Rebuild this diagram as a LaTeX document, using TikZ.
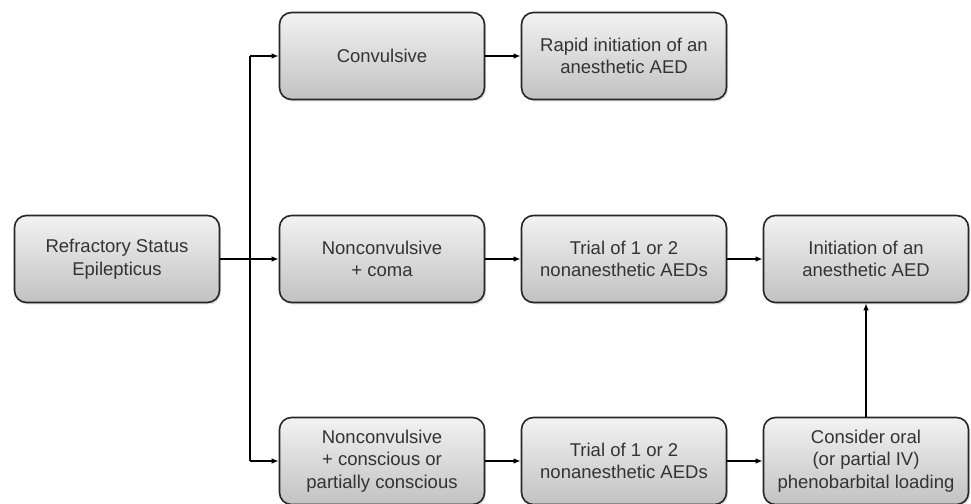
\documentclass[tikz,border=0pt]{standalone}
\usepackage{fontspec}
\setmainfont{Liberation Sans}
\usetikzlibrary{arrows.meta,shadows}
\definecolor{boxtext}{HTML}{333333}

\begin{document}
\begin{tikzpicture}[x=1pt, y=1pt,
		box/.style={draw=black!85, line width=1.6pt, rounded corners=12pt,
			top color=gray!10, bottom color=gray!48,
			drop shadow={shadow xshift=1.5pt, shadow yshift=-2pt, opacity=0.25},
			minimum width=205pt, minimum height=87pt, align=center,
			text=boxtext, font=\fontsize{18.5}{22.5}\selectfont},
		arr/.style={line width=1.3pt, -{Latex[length=7pt,width=5.5pt]}}]
			\useasboundingbox (0,0) rectangle (971,503);
			\node[box] (rse) at (117, 244) {Refractory Status\\Epilepticus};
			\node[box] (conv) at (382, 447) {Convulsive};
			\node[box] (ncoma) at (382, 244) {Nonconvulsive\\+ coma};
			\node[box] (ncons) at (382, 42) {Nonconvulsive\\+ conscious or\\partially conscious};
			\node[box] (rapid) at (624, 447) {Rapid initiation of an\\anesthetic AED};
			\node[box] (trialA) at (624, 244) {Trial of 1 or 2\\nonanesthetic AEDs};
			\node[box] (trialB) at (624, 42) {Trial of 1 or 2\\nonanesthetic AEDs};
			\node[box] (init) at (866, 244) {Initiation of an\\anesthetic AED};
			\node[box] (pheno) at (866, 42) {Consider oral\\(or partial IV)\\phenobarbital loading};
			\coordinate (trunk) at (250, 244);

			\draw[line width=1.3pt] (conv.west -| trunk) -- (ncons.west -| trunk);
			\draw[arr] (rse) -- (ncoma);
			\draw[arr] (conv.west -| trunk) -- (conv);
			\draw[arr] (ncons.west -| trunk) -- (ncons);
			\draw[arr] (conv) -- (rapid);
			\draw[arr] (ncoma) -- (trialA);
			\draw[arr] (ncons) -- (trialB);
			\draw[arr] (trialA) -- (init);
			\draw[arr] (trialB) -- (pheno);
			\draw[arr] (pheno) -- (init);
		\end{tikzpicture}
\end{document}
